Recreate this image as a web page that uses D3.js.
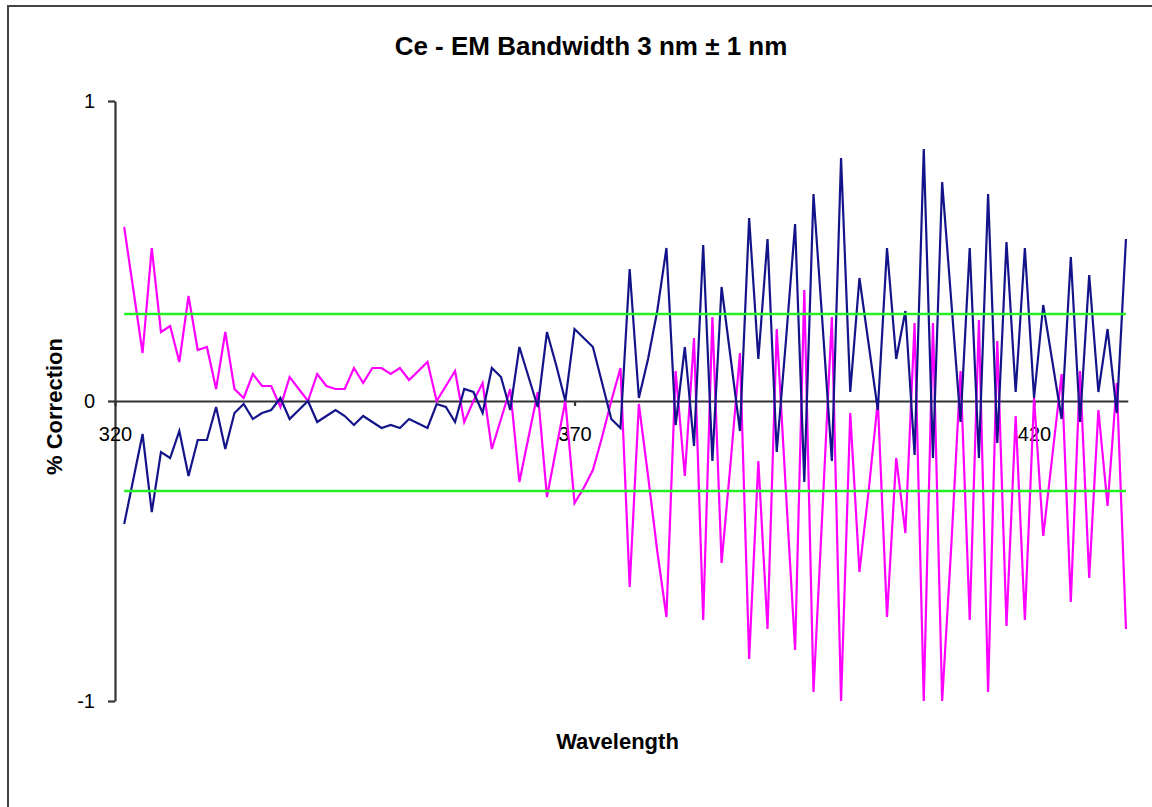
<!DOCTYPE html>
<html>
<head>
<meta charset="utf-8">
<script src="https://cdn.jsdelivr.net/npm/d3@7"></script>
<style>
  body { margin: 0; background: #fff; }
  svg { display: block; font-family: "Liberation Sans", Arial, sans-serif; }
</style>
</head>
<body>
<div id="main"></div>
<script>
const wavelength = [
  321, 322, 323, 324, 325, 326, 327, 328, 329, 330,
  331, 332, 333, 334, 335, 336, 337, 338, 339, 340,
  341, 342, 343, 344, 345, 346, 347, 348, 349, 350,
  351, 352, 353, 354, 355, 356, 357, 358, 359, 360,
  361, 362, 363, 364, 365, 366, 367, 368, 369, 370,
  371, 372, 373, 374, 375, 376, 377, 378, 379, 380,
  381, 382, 383, 384, 385, 386, 387, 388, 389, 390,
  391, 392, 393, 394, 395, 396, 397, 398, 399, 400,
  401, 402, 403, 404, 405, 406, 407, 408, 409, 410,
  411, 412, 413, 414, 415, 416, 417, 418, 419, 420,
  421, 422, 423, 424, 425, 426, 427, 428, 429, 430
]

// navy series
const bluePct = [
  -0.41, -0.26, -0.11, -0.37, -0.17, -0.19, -0.10, -0.25, -0.13, -0.13,
  -0.02, -0.16, -0.04, -0.01, -0.06, -0.04, -0.03, 0.01, -0.06, -0.03,
  0.00, -0.07, -0.05, -0.03, -0.05, -0.08, -0.05, -0.07, -0.09, -0.08,
  -0.09, -0.06, -0.075, -0.09, -0.01, -0.02, -0.07, 0.04, 0.03, -0.04,
  0.11, 0.08, -0.03, 0.18, 0.08, -0.02, 0.23, 0.12, 0.00, 0.24,
  0.21, 0.18, 0.06, -0.06, -0.09, 0.44, 0.01, 0.14, 0.30, 0.51,
  -0.08, 0.18, -0.15, 0.52, -0.20, 0.38, 0.14, -0.10, 0.61, 0.14,
  0.54, -0.17, 0.20, 0.59, -0.27, 0.69, 0.25, -0.20, 0.81, 0.03,
  0.41, 0.19, -0.03, 0.51, 0.14, 0.30, -0.18, 0.84, -0.19, 0.73,
  0.33, -0.07, 0.51, -0.19, 0.69, -0.14, 0.53, 0.03, 0.51, 0.01,
  0.32, 0.13, -0.06, 0.48, -0.07, 0.42, 0.03, 0.24, -0.04, 0.54
]

// magenta series
const magentaPct = [
  0.58, 0.37, 0.16, 0.51, 0.23, 0.25, 0.13, 0.35, 0.17, 0.18,
  0.04, 0.23, 0.04, 0.01, 0.09, 0.05, 0.05, -0.02, 0.08, 0.04,
  0.00, 0.09, 0.05, 0.04, 0.04, 0.11, 0.06, 0.11, 0.11, 0.09,
  0.11, 0.07, 0.10, 0.13, 0.00, 0.05, 0.10, -0.07, 0.00, 0.06,
  -0.16, -0.06, 0.04, -0.27, -0.12, 0.03, -0.32, -0.16, 0.00, -0.34,
  -0.29, -0.23, -0.12, 0.00, 0.11, -0.62, -0.01, -0.25, -0.50, -0.72,
  0.10, -0.25, 0.21, -0.73, 0.28, -0.54, -0.20, 0.16, -0.86, -0.20,
  -0.76, 0.24, -0.30, -0.83, 0.37, -0.97, -0.35, 0.28, -1.00, -0.04,
  -0.57, -0.30, 0.00, -0.72, -0.19, -0.44, 0.26, -1.00, 0.26, -1.00,
  -0.48, 0.10, -0.73, 0.27, -0.97, 0.20, -0.75, -0.05, -0.73, 0.01,
  -0.45, -0.18, 0.09, -0.67, 0.10, -0.59, -0.03, -0.35, 0.06, -0.76
]

const upperLimit = 0.29
const lowerLimit = -0.3

const xTicks = [320, 370, 420]
const yTicks = [-1, 0, 1]

let width = 1152
let height = 807

let svg = d3.select('#main')
            .append('svg')
            .attr('width', width)
            .attr('height', height)

svg.append('rect')
    .attr('width', width)
    .attr('height', height)
    .attr('fill', '#fff')

// chart frame, only top and left edges show in the picture
svg.append('rect')
    .attr('x', 8)
    .attr('y', 6)
    .attr('width', width + 20)
    .attr('height', height + 20)
    .attr('fill', 'none')
    .attr('stroke', '#444')
    .attr('stroke-width', 2)

let xScale = d3.scaleLinear().domain([320, 430.2]).range([115, 1127.8])
let yScale = d3.scaleLinear().domain([-1, 1]).range([701, 101])

let yAxis = d3.axisLeft(yScale)
    .tickValues(yTicks)
    .tickFormat((d) => String(d))
    .tickSize(7)
    .tickSizeOuter(0)
    .tickPadding(13)

let xAxis = d3.axisBottom(xScale)
    .tickValues(xTicks)
    .tickFormat((d) => String(d))
    .tickSize(5)
    .tickSizeOuter(0)
    .tickPadding(21)

let gy = svg.append('g')
    .attr('transform', 'translate(115, 0)')
    .call(yAxis)

let gx = svg.append('g')
    .attr('transform', `translate(0, ${yScale(0)})`)
    .call(xAxis)

for (let g of [gx, gy]) {
    g.attr('color', '#333')
    g.selectAll('path, line').attr('stroke-width', 2.2)
    g.selectAll('text')
        .attr('fill', '#000')
        .style('font-size', '20px')
        .style('font-family', '"Liberation Sans", Arial, sans-serif')
}

let line = d3.line()
    .x((d) => xScale(d.w))
    .y((d) => yScale(d.v))

let magenta = wavelength.map((w, i) => ({ w: w, v: magentaPct[i] }))
let blue = wavelength.map((w, i) => ({ w: w, v: bluePct[i] }))
let upper = wavelength.map((w) => ({ w: w, v: upperLimit }))
let lower = wavelength.map((w) => ({ w: w, v: lowerLimit }))

svg.append('path')
    .datum(magenta)
    .attr('d', line)
    .attr('fill', 'none')
    .attr('stroke', '#ff00ff')
    .attr('stroke-width', 2.2)

svg.append('path')
    .datum(blue)
    .attr('d', line)
    .attr('fill', 'none')
    .attr('stroke', '#14148a')
    .attr('stroke-width', 2.2)

for (let lim of [upper, lower]) {
    svg.append('path')
        .datum(lim)
        .attr('d', line)
        .attr('fill', 'none')
        .attr('stroke', '#22f022')
        .attr('stroke-width', 2.6)
}

svg.append('text')
    .attr('x', 591)
    .attr('y', 55)
    .attr('text-anchor', 'middle')
    .style('font-size', '26px')
    .style('font-weight', 'bold')
    .text('Ce - EM Bandwidth 3 nm ± 1 nm')

svg.append('text')
    .attr('x', 617.5)
    .attr('y', 749)
    .attr('text-anchor', 'middle')
    .style('font-size', '22px')
    .style('font-weight', 'bold')
    .text('Wavelength')

svg.append('text')
    .attr('transform', 'translate(61.5, 406.5) rotate(-90)')
    .attr('text-anchor', 'middle')
    .style('font-size', '22px')
    .style('font-weight', 'bold')
    .text('% Correction')
</script>
</body>
</html>
